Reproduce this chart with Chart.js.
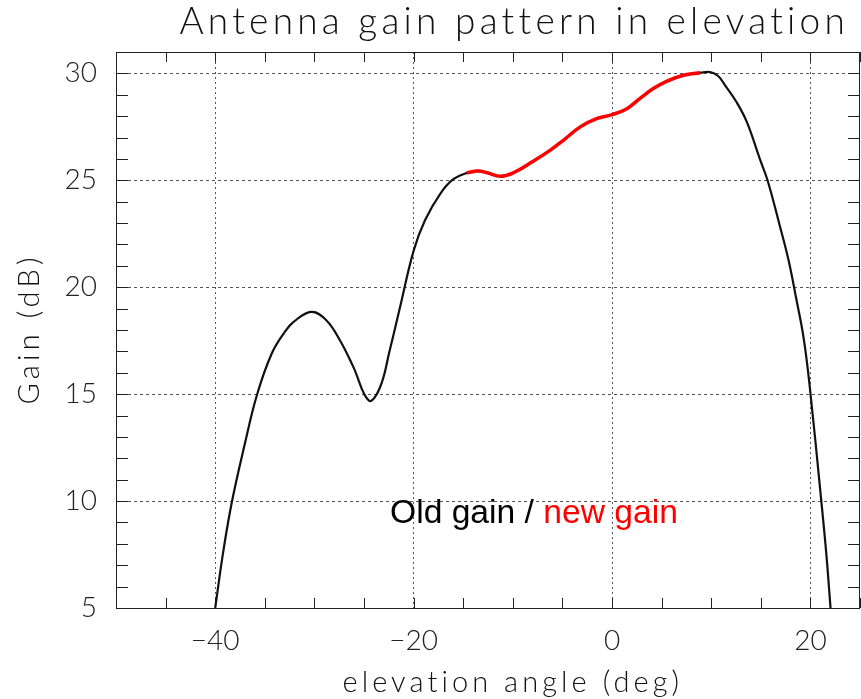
<!DOCTYPE html>
<html>
<head>
<meta charset="utf-8">
<script src="https://cdn.jsdelivr.net/npm/chart.js@4/dist/chart.umd.min.js"></script>
<style>
  html, body { margin: 0; padding: 0; background: #fff; overflow: hidden; }
  canvas { display: block; }
</style>
</head>
<body>
<canvas id="myChart" width="861" height="699"></canvas>
<script>
// elevation angle (deg) and gain (dB)
const oldAngle = [-40.0, -39.2, -38.3, -37.0, -35.8, -34.3, -33.0, -32.1, -30.3, -28.8, -27.4, -26.1, -24.5, -23.4, -22.4, -21.4, -20.0, -18.85, -17.3, -16.0,
  -14.65, -13.5, -12.5, -11.3, -10.0, -7.95, -6.25, -4.9, -3.2, -1.55, 0.0, 1.5, 2.8, 4.16, 5.5, 7.2, 8.9,
  9.9, 10.7, 11.4, 12.55, 13.6, 14.9, 15.68, 16.9, 17.8, 18.6, 19.3, 19.9, 21.1, 21.6, 22.03];
const oldGain = [5.0, 7.6, 10.0, 12.7, 14.95, 16.9, 17.9, 18.38, 18.85, 18.46, 17.5, 16.3, 14.7, 15.3, 17.06, 19.0, 21.7, 23.13, 24.38, 25.05,
  25.34, 25.44, 25.34, 25.19, 25.34, 25.89, 26.4, 26.87, 27.5, 27.88, 28.07, 28.35, 28.82, 29.29, 29.63, 29.91, 30.03,
  30.06, 29.88, 29.44, 28.66, 27.72, 26.0, 25.0, 22.9, 21.26, 19.4, 17.68, 15.5, 10.0, 7.55, 5.0];

const newAngle = [-14.65, -13.5, -12.5, -11.3, -10.0, -7.95, -6.25, -4.9, -3.2, -1.55, 0.0, 1.5, 2.8, 4.16, 5.5, 7.2, 8.9];
const newGain = [25.34, 25.44, 25.34, 25.19, 25.34, 25.89, 26.4, 26.87, 27.5, 27.88, 28.07, 28.35, 28.82, 29.29, 29.63, 29.91, 30.03];

const xMin = -50, xMax = 25, xStep = 5, xLabelEvery = 20;
const yMin = 5, yMax = 31, yStep = 1, yLabelEvery = 5;

const titleText = 'Antenna gain pattern in elevation';
const xTitle = 'elevation angle (deg)';
const yTitle = 'Gain (dB)';
const noteOld = 'Old gain / ';
const noteNew = 'new gain';

const axisFont = 'Lato';
const gridColor = '#555';

const toPoints = (xs, ys) => xs.map((v, i) => ({x: v, y: ys[i]}));

// draw text stretched to a given width with letter spacing
function fitText(ctx, text, cx, cy, width, font, rot) {
  ctx.save();
  ctx.font = font;
  ctx.letterSpacing = '0px';
  const w = ctx.measureText(text).width;
  const sp = (width - w) / Math.max(1, text.length - 1);
  ctx.letterSpacing = sp + 'px';
  ctx.translate(cx, cy);
  if (rot) ctx.rotate(rot);
  ctx.textAlign = 'left';
  ctx.textBaseline = 'middle';
  ctx.fillStyle = '#111';
  ctx.fillText(text, -width / 2, 0);
  ctx.restore();
}

const frame = {
  id: 'frame',
  beforeDatasetsDraw(chart) {
    const {ctx, chartArea: a, scales: {x, y}} = chart;
    ctx.save();
    ctx.strokeStyle = '#222';
    ctx.lineWidth = 1;
    ctx.beginPath();
    x.ticks.forEach(t => {
      const px = Math.round(x.getPixelForValue(t.value)) + 0.5;
      ctx.moveTo(px, a.bottom); ctx.lineTo(px, a.bottom - 10);
      ctx.moveTo(px, a.top); ctx.lineTo(px, a.top + 10);
    });
    y.ticks.forEach(t => {
      const py = Math.round(y.getPixelForValue(t.value)) + 0.5;
      ctx.moveTo(a.left, py); ctx.lineTo(a.left + 12, py);
      ctx.moveTo(a.right, py); ctx.lineTo(a.right - 12, py);
    });
    ctx.stroke();
    ctx.strokeRect(Math.round(a.left) + 0.5, Math.round(a.top) + 0.5, Math.round(a.right - a.left) - 1, Math.round(a.bottom - a.top));
    ctx.restore();
  },
  afterDraw(chart) {
    const {ctx} = chart;
    fitText(ctx, titleText, 512, 22, 665, '300 37px ' + axisFont);
    fitText(ctx, xTitle, 511, 683, 337, '300 29px ' + axisFont);
    fitText(ctx, yTitle, 30, 331, 147, '300 29px ' + axisFont, -Math.PI / 2);

    ctx.save();
    ctx.font = '32px "Liberation Sans"';
    const w1 = ctx.measureText(noteOld).width;
    const w2 = ctx.measureText(noteNew).width;
    const size = 32 * 288 / (w1 + w2);
    ctx.font = size + 'px "Liberation Sans"';
    ctx.textBaseline = 'alphabetic';
    ctx.textAlign = 'left';
    ctx.fillStyle = '#000';
    ctx.fillText(noteOld, 390, 523);
    ctx.fillStyle = '#ff0000';
    ctx.fillText(noteNew, 390 + ctx.measureText(noteOld).width, 523);
    ctx.restore();
  }
};

const ctx = document.getElementById('myChart').getContext('2d');
const chart = new Chart(ctx, {
  type: 'line',
  data: {
    datasets: [
      {
        label: 'new gain',
        data: toPoints(newAngle, newGain),
        borderColor: '#ff0000',
        borderWidth: 3.5,
        pointRadius: 0,
        tension: 0.4,
        order: 0
      },
      {
        label: 'old gain',
        data: toPoints(oldAngle, oldGain),
        borderColor: '#111',
        borderWidth: 2.2,
        pointRadius: 0,
        tension: 0.4,
        order: 1
      }
    ]
  },
  options: {
    responsive: false,
    animation: false,
    layout: {padding: {top: 52, right: 1, left: 0, bottom: 0}},
    plugins: {legend: {display: false}, tooltip: {enabled: false}},
    scales: {
      x: {
        type: 'linear',
        min: xMin, max: xMax,
        afterFit: s => { s.height = 91; s.paddingLeft = 0; s.paddingRight = 0; },
        ticks: {
          stepSize: xStep,
          autoSkip: false,
          maxRotation: 0,
          padding: 16,
          color: '#222',
          font: {family: axisFont, size: 28, weight: '300'},
          callback: v => v % xLabelEvery === 0 ? (v < 0 ? '\u2212' + (-v) : String(v)) : ''
        },
        grid: {
          drawTicks: false,
          color: c => (c.tick && c.tick.value % xLabelEvery === 0) ? gridColor : 'transparent'
        },
        border: {display: false, dash: [2, 3]}
      },
      y: {
        min: yMin, max: yMax,
        afterFit: s => { s.width = 116; s.paddingTop = 0; s.paddingBottom = 0; },
        ticks: {
          stepSize: yStep,
          autoSkip: false,
          padding: 19,
          color: '#222',
          font: {family: axisFont, size: 28, weight: '300'},
          callback: v => (v % yLabelEvery === 0 && v < yMax) ? String(v) : ''
        },
        grid: {
          drawTicks: false,
          color: c => (c.tick && c.tick.value % yLabelEvery === 0) ? gridColor : 'transparent'
        },
        border: {display: false, dash: [3, 3]}
      }
    }
  },
  plugins: [frame]
});
</script>
</body>
</html>
